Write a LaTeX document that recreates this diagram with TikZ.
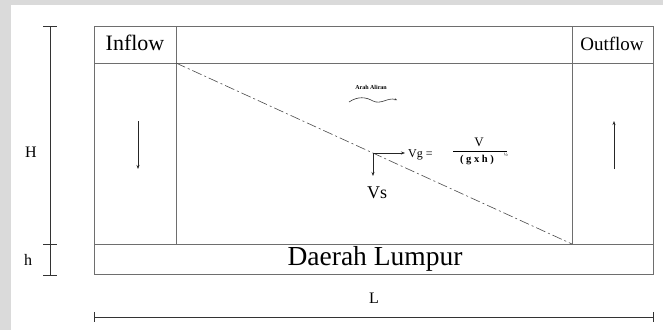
\documentclass[tikz,border=0pt]{standalone}
\usepackage{fontspec}
\setmainfont{Liberation Serif}
\usetikzlibrary{arrows.meta}
\definecolor{frame}{RGB}{218,218,218}
\definecolor{boxline}{RGB}{110,110,110}
\tikzset{
  boxl/.style={draw=boxline, line width=1pt},
  dim/.style={draw=black!80, line width=0.8pt},
  flowarr/.style={draw=black!85, line width=0.7pt, -{Stealth[length=4pt,width=3pt]}},
  lbl/.style={inner sep=0pt, text=black},
  dashdot/.style={draw=black!70, line width=0.6pt, dash pattern=on 10pt off 3pt on 2pt off 3pt}
}
\begin{document}
\begin{tikzpicture}[x=1pt,y=-1pt]
\useasboundingbox (0,0) rectangle (663,330);
\fill[white] (0,0) rectangle (663,330);
% grey frame (scan margin)
\fill[frame] (0,0) rectangle (663,5);
\fill[frame] (0,0) rectangle (11,330);

% key points
\coordinate (TL) at (94,26);
\coordinate (BR) at (653,274);
\coordinate (hdr) at (94,63);
\coordinate (mudL) at (94,244);
\coordinate (mudR) at (653,244);
\coordinate (inT) at (176,26);
\coordinate (inB) at (176,63);
\coordinate (inM) at (176,244);
\coordinate (outT) at (572,26);
\coordinate (outM) at (572,244);

% main box
\draw[boxl] (TL) rectangle (BR);
\draw[boxl] (hdr) -- (653,63);
\draw[boxl] (mudL) -- (mudR);
\draw[boxl] (inT) -- (inM);
\draw[boxl] (outT) -- (outM);

% header labels
\node[lbl, font=\fontsize{22}{22}\selectfont] (inflow) at (135,43) {Inflow};
\node[lbl, font=\fontsize{19}{19}\selectfont] (outflow) at (612,44) {Outflow};
\node[lbl, font=\fontsize{27.5}{27.5}\selectfont] (mud) at (375,259) {Daerah Lumpur};

% diagonal settling line
\draw[dashdot] (inB) -- (outM);

% inflow / outflow arrows
\coordinate (la1) at (138,121);
\coordinate (la2) at (138,169);
\coordinate (ra1) at (614,169);
\coordinate (ra2) at (614,121);
\draw[flowarr] (la1) -- (la2);
\draw[flowarr] (ra1) -- (ra2);

% flow direction
\node[lbl, font=\fontsize{6}{6}\selectfont\bfseries] (arah) at (371,87) {Arah Aliran};
\coordinate (w1) at (349,102);
\coordinate (w2) at (397,100);
\draw[draw=black!80, line width=0.6pt, -{Stealth[length=2.5pt,width=2pt]}] (w1) .. controls (358,96) and (366,97) .. (373,101) .. controls (381,105) and (388,97) .. (w2);

% velocity vectors
\coordinate (O) at (373,153);
\coordinate (vgE) at (405,153);
\coordinate (vsE) at (373,176);
\draw[flowarr] (O) -- (vgE);
\draw[flowarr] (O) -- (vsE);
\node[lbl, font=\fontsize{18}{18}\selectfont] (vs) at (377,193) {Vs};
\node[lbl, anchor=west, font=\fontsize{12}{12}\selectfont] (vg) at (408,155) {Vg =};
\node[lbl, font=\fontsize{13}{13}\selectfont] (num) at (479,142) {V};
\coordinate (fb1) at (453,151);
\coordinate (fb2) at (507,151);
\draw[draw=black, line width=0.7pt] (fb1) -- (fb2);
\node[lbl, font=\fontsize{10.5}{10.5}\selectfont\bfseries] (den) at (477,160) {( g x h )};
\node[lbl, font=\fontsize{5}{5}\selectfont] (ex) at (506,155) {½};

% dimensions
\coordinate (Ht) at (50,26);
\coordinate (Hb) at (50,244);
\coordinate (hb) at (50,275);
\draw[dim] (Ht) -- (hb);
\draw[dim] (43,26) -- (57,26);
\draw[dim] (43,244) -- (57,244);
\draw[dim] (43,275) -- (57,275);
\node[lbl, font=\fontsize{16}{16}\selectfont] (H) at (31,152) {H};
\node[lbl, font=\fontsize{16}{16}\selectfont] (h) at (28,260) {h};

\coordinate (La) at (94,317);
\coordinate (Lb) at (653,317);
\draw[dim] (La) -- (Lb);
\draw[dim] (94,312) -- (94,322);
\draw[dim] (653,312) -- (653,322);
\node[lbl, font=\fontsize{16}{16}\selectfont] (L) at (374,298) {L};
\end{tikzpicture}
\end{document}
